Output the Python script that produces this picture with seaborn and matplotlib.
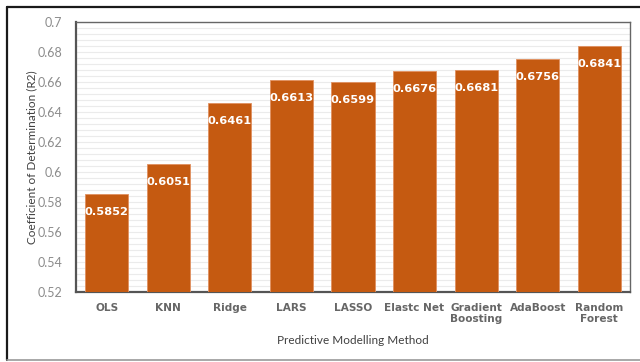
import matplotlib
matplotlib.use("Agg")
import matplotlib.pyplot as plt
from matplotlib.lines import Line2D
from matplotlib.ticker import MultipleLocator
import seaborn as sns
import pandas as pd

methods = ["OLS", "KNN", "Ridge", "LARS", "LASSO", "Elastc Net",
           "Gradient\nBoosting", "AdaBoost", "Random\nForest"]
r2_scores = [0.5852, 0.6051, 0.6461, 0.6613, 0.6599, 0.6676, 0.6681, 0.6756, 0.6841]

df = pd.DataFrame({"method": methods, "r2": r2_scores})

sns.set_theme(style="white")
plt.rcParams["font.family"] = ["DejaVu Sans"]

fig = plt.figure(figsize=(6.4, 3.62), dpi=100)
ax = fig.add_axes([76 / 640, 70 / 362, 554 / 640, 270 / 362])

bar_color = "#C55A11"
sns.barplot(data=df, x="method", y="r2", color=bar_color, width=0.70,
            edgecolor="#E09060", linewidth=0.6, saturation=1, ax=ax, zorder=3)

ax.set_ylim(0.52, 0.70)
ax.yaxis.set_major_locator(MultipleLocator(0.02))
ax.yaxis.set_minor_locator(MultipleLocator(0.004))
ax.set_axisbelow(True)
ax.grid(which="both", axis="y", color="#EBEBEB", linewidth=0.8, zorder=0)
ax.grid(which="both", axis="x", visible=False)

ax.set_yticks([0.52, 0.54, 0.56, 0.58, 0.60, 0.62, 0.64, 0.66, 0.68, 0.70])
ax.set_yticklabels(["0.52", "0.54", "0.56", "0.58", "0.6", "0.62", "0.64",
                    "0.66", "0.68", "0.7"],
                   fontsize=9, color="#8C8C8C", family="Lato")
ax.tick_params(axis="y", which="both", length=0, pad=10)
ax.tick_params(axis="x", length=0, pad=8)
for lbl in ax.get_xticklabels():
    lbl.set_fontsize(7.6)
    lbl.set_fontweight("bold")
    lbl.set_color("#666666")
    lbl.set_linespacing(1.05)

for side in ["left", "right", "top", "bottom"]:
    ax.spines[side].set_visible(True)
    ax.spines[side].set_color("#666666")
    ax.spines[side].set_linewidth(1.0)
ax.spines["left"].set_linewidth(1.6)
ax.spines["left"].set_color("#555555")
ax.spines["bottom"].set_linewidth(1.6)
ax.spines["bottom"].set_color("#555555")

for patch, val in zip(ax.patches, r2_scores):
    cx = patch.get_x() + patch.get_width() / 2
    ax.annotate(f"{val:.4f}", xy=(cx, val), xytext=(0, -13),
                textcoords="offset points", ha="center", va="center",
                color="white", fontsize=8.2, fontweight="bold", zorder=5)

ax.set_xlabel("Predictive Modelling Method", fontsize=8.5, color="#404040",
              family="Lato", labelpad=8)
ax.set_ylabel("Coefficient of Determination (R2)", fontsize=8.5,
              color="#404040", family="Lato")
ax.yaxis.set_label_coords(-0.0704, 0.5)

# outer chart frame
fig.add_artist(Line2D([7 / 640, 1.0], [1 - 7 / 362, 1 - 7 / 362],
                      transform=fig.transFigure, color="#1a1a1a", linewidth=1.6))
fig.add_artist(Line2D([7 / 640, 7 / 640], [1 - 7 / 362, 1 - 360 / 362],
                      transform=fig.transFigure, color="#1a1a1a", linewidth=1.6))
fig.add_artist(Line2D([7 / 640, 1.0], [1 - 360 / 362, 1 - 360 / 362],
                      transform=fig.transFigure, color="#9a9a9a", linewidth=1.2))

fig.savefig("out.png", dpi=100)
